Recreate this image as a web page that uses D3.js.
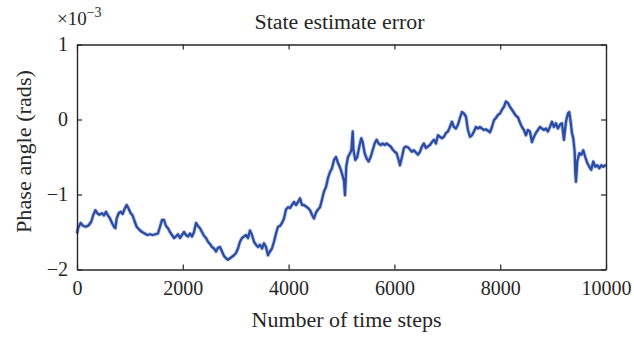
<!DOCTYPE html>
<html>
<head>
<meta charset="utf-8">
<script src="https://cdn.jsdelivr.net/npm/d3@7"></script>
<style>
  html, body { margin: 0; padding: 0; background: #fff; }
  svg { display: block; }
  text { font-family: "Liberation Serif", "DejaVu Serif", serif; fill: #262626; }
</style>
</head>
<body>
<svg id="chart" width="634" height="339"></svg>
<script>
// Time step at each sample of the estimate error trace
const steps = [
  0, 19, 69, 120, 170, 221, 271, 309, 347, 384, 422, 473, 510, 548, 586, 624, 662, 699, 725, 750,
  788, 825, 863, 901, 939, 977, 1015, 1052, 1090, 1128, 1178, 1229, 1279, 1330, 1380, 1430, 1481, 1531, 1569, 1607,
  1645, 1682, 1720, 1758, 1796, 1834, 1871, 1909, 1947, 1985, 2023, 2060, 2098, 2136, 2174, 2212, 2250, 2287, 2325, 2363,
  2401, 2439, 2476, 2514, 2552, 2590, 2628, 2665, 2703, 2741, 2779, 2817, 2854, 2892, 2930, 2968, 3006, 3043, 3081, 3119,
  3157, 3195, 3233, 3270, 3308, 3346, 3384, 3421, 3459, 3497, 3535, 3573, 3610, 3648, 3686, 3724, 3762, 3800, 3837, 3875,
  3913, 3951, 3989, 4026, 4064, 4102, 4140, 4178, 4216, 4253, 4291, 4329, 4367, 4405, 4442, 4480, 4518, 4556, 4594, 4631,
  4669, 4707, 4745, 4783, 4820, 4858, 4896, 4934, 4972, 5009, 5047, 5066, 5091, 5123, 5161, 5186, 5212, 5227, 5261, 5298,
  5336, 5374, 5400, 5438, 5475, 5513, 5551, 5589, 5627, 5664, 5702, 5740, 5778, 5816, 5853, 5891, 5929, 5967, 6005, 6042,
  6080, 6105, 6143, 6180, 6218, 6256, 6294, 6332, 6369, 6407, 6445, 6483, 6521, 6558, 6596, 6634, 6672, 6710, 6747, 6785,
  6823, 6861, 6899, 6936, 6974, 7012, 7050, 7088, 7125, 7163, 7201, 7239, 7277, 7314, 7352, 7390, 7428, 7466, 7503, 7541,
  7579, 7617, 7655, 7693, 7730, 7768, 7806, 7844, 7882, 7919, 7957, 7995, 8033, 8071, 8108, 8146, 8184, 8222, 8260, 8297,
  8335, 8373, 8411, 8449, 8486, 8524, 8562, 8600, 8638, 8675, 8713, 8751, 8789, 8827, 8864, 8902, 8940, 8978, 9016, 9053,
  9091, 9129, 9167, 9205, 9243, 9280, 9305, 9332, 9357, 9381, 9408, 9419, 9432, 9457, 9495, 9532, 9570, 9608, 9646, 9684,
  9721, 9759, 9797, 9835, 9873, 9911, 9948, 9986, 10000
];

// Phase angle error, in units of 1e-3 rad
const errorVals = [
  -1.52, -1.45, -1.38, -1.42, -1.43, -1.41, -1.36, -1.27, -1.21, -1.25, -1.27, -1.25, -1.28, -1.23, -1.28, -1.32, -1.38, -1.43, -1.45, -1.32,
  -1.25, -1.23, -1.26, -1.19, -1.14, -1.19, -1.25, -1.28, -1.36, -1.43, -1.47, -1.50, -1.52, -1.54, -1.53, -1.54, -1.53, -1.52, -1.43, -1.34,
  -1.34, -1.42, -1.45, -1.50, -1.54, -1.58, -1.56, -1.53, -1.58, -1.54, -1.50, -1.54, -1.56, -1.52, -1.56, -1.50, -1.38, -1.42, -1.45, -1.50,
  -1.55, -1.58, -1.63, -1.66, -1.70, -1.72, -1.76, -1.71, -1.70, -1.76, -1.82, -1.85, -1.87, -1.85, -1.83, -1.81, -1.78, -1.72, -1.63, -1.58,
  -1.56, -1.54, -1.58, -1.48, -1.54, -1.63, -1.67, -1.70, -1.67, -1.72, -1.65, -1.70, -1.81, -1.76, -1.72, -1.63, -1.52, -1.43, -1.42, -1.38,
  -1.32, -1.20, -1.17, -1.18, -1.14, -1.10, -1.14, -1.10, -1.05, -1.14, -1.14, -1.16, -1.18, -1.21, -1.27, -1.32, -1.24, -1.20, -1.17, -1.07,
  -0.96, -0.90, -0.78, -0.70, -0.65, -0.54, -0.50, -0.58, -0.64, -0.72, -0.82, -1.01, -0.62, -0.50, -0.45, -0.41, -0.16, -0.41, -0.54, -0.50,
  -0.36, -0.25, -0.30, -0.45, -0.52, -0.56, -0.50, -0.41, -0.32, -0.27, -0.32, -0.34, -0.32, -0.34, -0.32, -0.34, -0.36, -0.40, -0.43, -0.45,
  -0.54, -0.61, -0.50, -0.38, -0.36, -0.37, -0.40, -0.43, -0.41, -0.44, -0.47, -0.43, -0.36, -0.32, -0.38, -0.36, -0.34, -0.30, -0.27, -0.32,
  -0.21, -0.23, -0.25, -0.23, -0.18, -0.16, -0.10, -0.03, -0.10, -0.12, -0.07, 0.02, 0.10, 0.08, 0.04, -0.14, -0.23, -0.21, -0.16, -0.10,
  -0.12, -0.10, -0.12, -0.14, -0.13, -0.15, -0.17, -0.10, -0.01, 0.02, 0.06, 0.08, 0.13, 0.17, 0.24, 0.22, 0.17, 0.13, 0.09, 0.05,
  0.03, -0.04, -0.10, -0.14, -0.21, -0.14, -0.16, -0.30, -0.23, -0.18, -0.14, -0.10, -0.12, -0.14, -0.12, -0.16, -0.10, -0.03, -0.10, -0.05,
  -0.12, -0.07, -0.05, -0.27, -0.03, 0.08, 0.10, -0.03, -0.18, -0.25, -0.43, -0.70, -0.83, -0.56, -0.45, -0.47, -0.41, -0.50, -0.58, -0.63,
  -0.67, -0.56, -0.63, -0.61, -0.65, -0.61, -0.63, -0.61, -0.62
];

const xTicks = [0, 2000, 4000, 6000, 8000, 10000];
const yTicks = [-2, -1, 0, 1];

const titleText = "State estimate error";
const xLabel = "Number of time steps";
const yLabel = "Phase angle (rads)";

const svg = d3.select("#chart");
const margin = { left: 77, right: 28, top: 44.5, bottom: 69.5 };
const W = 634, H = 339;

const x = d3.scaleLinear().domain([0, 10000]).range([margin.left, W - margin.right]);
const y = d3.scaleLinear().domain([-2, 1]).range([H - margin.bottom, margin.top]);

const axisColor = "#262626";
const fontSize = 20;

// Error trace: soft halo under a solid core to give the noisy band its width
const series = steps.map((s, i) => ({ s, v: errorVals[i] }));
const line = d3.line().x(d => x(d.s)).y(d => y(d.v));

svg.append("path").datum(series)
  .attr("d", line)
  .attr("fill", "none")
  .attr("stroke", "#8ea2d8")
  .attr("stroke-width", 4)
  .attr("stroke-opacity", 0.55)
  .attr("stroke-linejoin", "round");

svg.append("path").datum(series)
  .attr("d", line)
  .attr("fill", "none")
  .attr("stroke", "#2b4ca2")
  .attr("stroke-width", 2.3)
  .attr("stroke-linejoin", "round");

// Box axes with inward ticks
function styleAxis(g) {
  g.select(".domain").attr("stroke", axisColor).attr("stroke-width", 1.4);
  g.selectAll(".tick line").attr("stroke", axisColor).attr("stroke-width", 1.2);
  g.selectAll(".tick text")
    .attr("fill", axisColor)
    .style("font-family", '"Liberation Serif", serif')
    .style("font-size", fontSize + "px");
}

svg.append("g")
  .attr("transform", `translate(0,${y(-2)})`)
  .call(d3.axisBottom(x).tickValues(xTicks).tickSizeInner(-5).tickSizeOuter(0).tickPadding(11).tickFormat(d3.format("d")))
  .call(styleAxis);

svg.append("g")
  .attr("transform", `translate(0,${y(1)})`)
  .call(d3.axisTop(x).tickValues(xTicks).tickSizeInner(-5).tickSizeOuter(0).tickFormat(""))
  .call(styleAxis);

svg.append("g")
  .attr("transform", `translate(${x(0)},0)`)
  .call(d3.axisLeft(y).tickValues(yTicks).tickSizeInner(-5).tickSizeOuter(0).tickPadding(9)
    .tickFormat(d => d < 0 ? "\u2212" + Math.abs(d) : String(d)))
  .call(styleAxis);

svg.append("g")
  .attr("transform", `translate(${x(10000)},0)`)
  .call(d3.axisRight(y).tickValues(yTicks).tickSizeInner(-5).tickSizeOuter(0).tickFormat(""))
  .call(styleAxis);

// Exponent multiplier for the y axis
const mult = svg.append("text")
  .attr("x", 57)
  .attr("y", 24.5)
  .style("font-size", "19px");
mult.append("tspan").text("\u00d710");
mult.append("tspan").attr("dy", -8).style("font-size", "14px").text("\u22123");

// Title and axis labels
svg.append("text")
  .attr("x", (x(0) + x(10000)) / 2 - 2)
  .attr("y", 28.5)
  .attr("text-anchor", "middle")
  .attr("textLength", 170)
  .attr("lengthAdjust", "spacingAndGlyphs")
  .style("font-size", fontSize + "px")
  .text(titleText);

svg.append("text")
  .attr("x", (x(0) + x(10000)) / 2 + 5)
  .attr("y", 326.5)
  .attr("text-anchor", "middle")
  .attr("textLength", 190)
  .attr("lengthAdjust", "spacingAndGlyphs")
  .style("font-size", fontSize + "px")
  .text(xLabel);

svg.append("text")
  .attr("transform", `translate(31,${151.5}) rotate(-90)`)
  .attr("text-anchor", "middle")
  .attr("textLength", 163)
  .attr("lengthAdjust", "spacingAndGlyphs")
  .style("font-size", fontSize + "px")
  .text(yLabel);
</script>
</body>
</html>
